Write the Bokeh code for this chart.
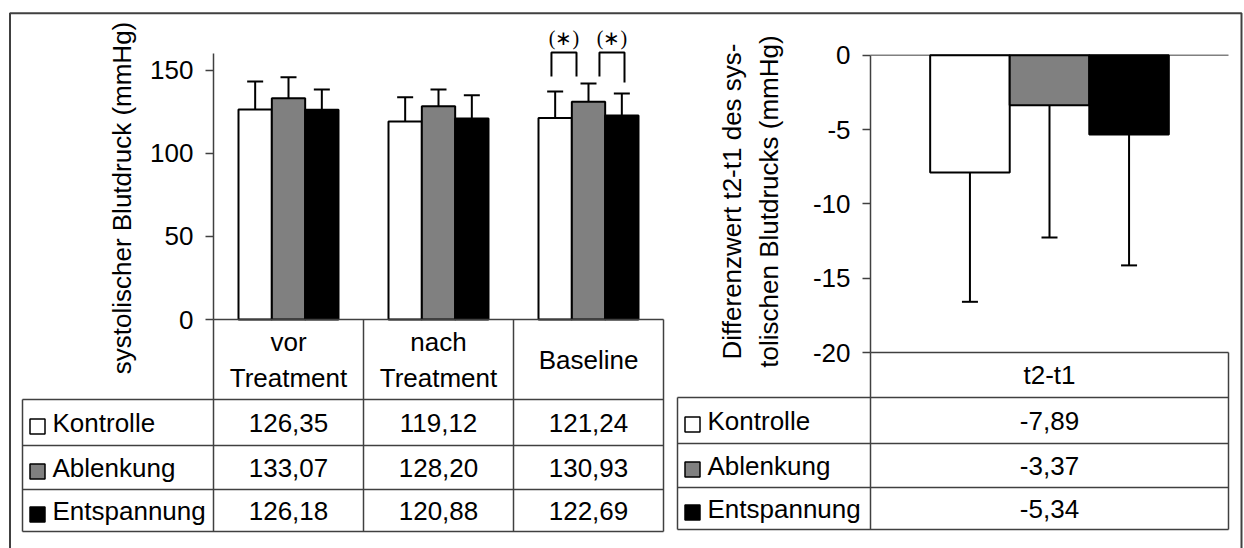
from math import pi

from bokeh.plotting import figure
from bokeh.models import Range1d, LinearAxis, FixedTicker
from bokeh.embed import file_html
from bokeh.resources import INLINE
from bokeh.core.properties import value

# ---------------- data ----------------
phases = ["vor\nTreatment", "nach\nTreatment", "Baseline"]
groups = ["Kontrolle", "Ablenkung", "Entspannung"]
group_colors = ["#ffffff", "#808080", "#000000"]

kontrolle = [126.35, 119.12, 121.24]
ablenkung = [133.07, 128.20, 130.93]
entspannung = [126.18, 120.88, 122.69]
sd_kontrolle = [16.8, 14.6, 15.9]
sd_ablenkung = [12.7, 10.1, 11.0]
sd_entspannung = [12.2, 14.0, 13.3]

diff_phase = ["t2-t1"]
diff_values = [-7.89, -3.37, -5.34]
diff_sd = [8.7, 8.9, 8.8]

left_ticks = [0, 50, 100, 150]
right_ticks = [-20, -15, -10, -5, 0]
left_title = "systolischer Blutdruck (mmHg)"
right_title = "Differenzwert t2-t1 des sys-\ntolischen Blutdrucks (mmHg)"
sig_label = "(\u2217)"

# ---------------- layout (canvas pixels) ----------------
W, H = 1244, 548
FONT = "Liberation Sans"
FS = "26px"
LINE = "#404040"

L_AXIS_X, L_CAT_W, L_ZERO_Y, L_TOP_Y, L_MAX = 213, 150, 319, 53, 160
R_AXIS_X, R_CAT_W, R_ZERO_Y, R_BOT_Y, R_MIN = 870, 358, 54.7, 352, -20
kL = (L_ZERO_Y - L_TOP_Y) / L_MAX
kR = (R_BOT_Y - R_ZERO_Y) / (-R_MIN)

L_TABLE_LEFT = 22
L_ROWS = [L_ZERO_Y, 399, 445, 489, 531]
R_TABLE_LEFT = 677
R_ROWS = [R_BOT_Y, 397, 443, 487, 529]

p = figure(width=W, height=H, x_range=Range1d(0, W), y_range=Range1d(H, 0),
           x_axis_type=None, y_axis_type=None, toolbar_location=None,
           output_backend="svg", min_border=0, outline_line_color=None,
           background_fill_color="white", border_fill_color="white")

p.extra_x_ranges = {
    "L": Range1d(-L_AXIS_X / L_CAT_W, (W - L_AXIS_X) / L_CAT_W),
    "R": Range1d(-R_AXIS_X / R_CAT_W, (W - R_AXIS_X) / R_CAT_W),
}
p.extra_y_ranges = {
    "L": Range1d(-(H - L_ZERO_Y) / kL, L_ZERO_Y / kL),
    "R": Range1d(-(H - R_ZERO_Y) / kR, R_ZERO_Y / kR),
}

# outer frame (open at the bottom)
p.line(x=[9.5, 9.5, 1241, 1241], y=[H + 5, 12.7, 12.7, H + 5], line_color=LINE, line_width=2)

# ---------------- left chart: grouped bars ----------------
bw = 1 / (1.5 * 3)
cap_L = 16 / L_CAT_W
series = list(zip([kontrolle, ablenkung, entspannung],
                  [sd_kontrolle, sd_ablenkung, sd_entspannung], group_colors))
for k, (vals, sds, col) in enumerate(series):
    xs = [i + 0.5 + (k - 1) * bw for i in range(len(phases))]
    tops = [v + s for v, s in zip(vals, sds)]
    p.segment(x0=xs, y0=vals, x1=xs, y1=tops, line_color="black", line_width=2,
              x_range_name="L", y_range_name="L")
    p.segment(x0=[x - cap_L / 2 for x in xs], y0=tops, x1=[x + cap_L / 2 for x in xs], y1=tops,
              line_color="black", line_width=2, x_range_name="L", y_range_name="L")
    p.vbar(x=xs, top=vals, bottom=0, width=bw, fill_color=col, line_color="black",
           line_width=2, x_range_name="L", y_range_name="L")

# significance brackets at Baseline
brackets_x = [[2.253, 2.253, 2.42, 2.42], [2.573, 2.573, 2.74, 2.74]]
brackets_y = [[146.2, 160.6, 160.6, 146.2], [146.2, 160.6, 160.6, 142.6]]
p.multi_line(xs=brackets_x, ys=brackets_y, line_color="black", line_width=2,
             x_range_name="L", y_range_name="L")
p.text(x=[(b[0] + b[-1]) / 2 for b in brackets_x], y=[169.6, 169.6], text=[sig_label] * 2,
       text_font=value("Liberation Serif"), text_font_size="20px", text_color="black",
       text_align="center", text_baseline="middle", x_range_name="L", y_range_name="L")


def value_axis(rng, ticks, bounds):
    return LinearAxis(x_range_name=rng, y_range_name=rng, fixed_location=0, bounds=bounds,
                      ticker=FixedTicker(ticks=ticks, minor_ticks=[]),
                      major_label_overrides={t: str(t) for t in ticks},
                      major_tick_out=8, major_tick_in=0, minor_tick_out=0, minor_tick_in=0,
                      major_label_standoff=12, axis_line_color=LINE, axis_line_width=1.5,
                      major_tick_line_color=LINE, major_tick_line_width=1.5,
                      major_label_text_font=FONT, major_label_text_font_size=FS,
                      major_label_text_color="black")


p.add_layout(value_axis("L", left_ticks, (0, L_MAX)), "left")

p.text(x=[121], y=[197.5], text=[left_title], angle=pi / 2, text_font=value(FONT),
       text_font_size=FS, text_color="black", text_align="center", text_baseline="middle")

# ---------------- right chart: differences ----------------
cap_R = 16 / R_CAT_W
p.segment(x0=[0], y0=[R_ZERO_Y], x1=[1], y1=[R_ZERO_Y], line_color="#808080", line_width=1.5,
          x_range_name="R")
xr = [0.5 + (k - 1) * bw for k in range(len(groups))]
lows = [v - s for v, s in zip(diff_values, diff_sd)]
p.segment(x0=xr, y0=diff_values, x1=xr, y1=lows, line_color="black", line_width=2,
          x_range_name="R", y_range_name="R")
p.segment(x0=[x - cap_R / 2 for x in xr], y0=lows, x1=[x + cap_R / 2 for x in xr], y1=lows,
          line_color="black", line_width=2, x_range_name="R", y_range_name="R")
p.vbar(x=xr, top=0, bottom=diff_values, width=bw, fill_color=group_colors, line_color="black",
       line_width=2, x_range_name="R", y_range_name="R")

p.add_layout(value_axis("R", right_ticks, (R_MIN, 0)), "left")

p.text(x=[750], y=[201], text=[right_title], angle=pi / 2, text_font=value(FONT),
       text_font_size=FS, text_color="black", text_align="center", text_baseline="middle",
       text_line_height=1.23)


# ---------------- data tables ----------------
def fmt(v):
    return f"{v:.2f}".replace(".", ",")


def draw_table(rng, left_x, axis_x, cat_w, ncols, rows, headers, header_lh, values_by_group):
    left_u = (left_x - axis_x) / cat_w
    # horizontal rules
    hx0 = [0] + [left_u] * (len(rows) - 1)
    hx1 = [ncols] * len(rows)
    p.segment(x0=hx0, y0=rows, x1=hx1, y1=rows, line_color=LINE, line_width=1.5, x_range_name=rng)
    # vertical rules
    vx = list(range(ncols + 1)) + [left_u]
    vy0 = [rows[0]] * (ncols + 1) + [rows[1]]
    p.segment(x0=vx, y0=vy0, x1=vx, y1=[rows[-1]] * len(vx), line_color=LINE, line_width=1.5,
              x_range_name=rng)
    # header cells
    p.text(x=[i + 0.5 for i in range(ncols)], y=[(rows[0] + rows[1]) / 2] * ncols, text=headers,
           text_font=value(FONT), text_font_size=FS, text_color="black", text_align="center",
           text_baseline="middle", text_line_height=header_lh, x_range_name=rng)
    centers = [(rows[j] + rows[j + 1]) / 2 for j in range(1, len(rows) - 1)]
    # legend keys and group names
    p.scatter(x=[left_x + 15] * len(groups), y=[c + 4 for c in centers], marker="square", size=15,
              fill_color=group_colors, line_color="black", line_width=1.5)
    p.text(x=[left_x + 30] * len(groups), y=centers, text=groups, text_font=value(FONT),
           text_font_size=FS, text_color="black", text_align="left", text_baseline="middle")
    # values
    for c, vals in zip(centers, values_by_group):
        p.text(x=[i + 0.5 for i in range(ncols)], y=[c] * ncols, text=[fmt(v) for v in vals],
               text_font=value(FONT), text_font_size=FS, text_color="black", text_align="center",
               text_baseline="middle", x_range_name=rng)


draw_table("L", L_TABLE_LEFT, L_AXIS_X, L_CAT_W, len(phases), L_ROWS, phases, 1.2,
           [kontrolle, ablenkung, entspannung])
draw_table("R", R_TABLE_LEFT, R_AXIS_X, R_CAT_W, len(diff_phase), R_ROWS, diff_phase, 1.2,
           [[v] for v in diff_values])

open("out.html", "w").write(file_html(p, INLINE))
